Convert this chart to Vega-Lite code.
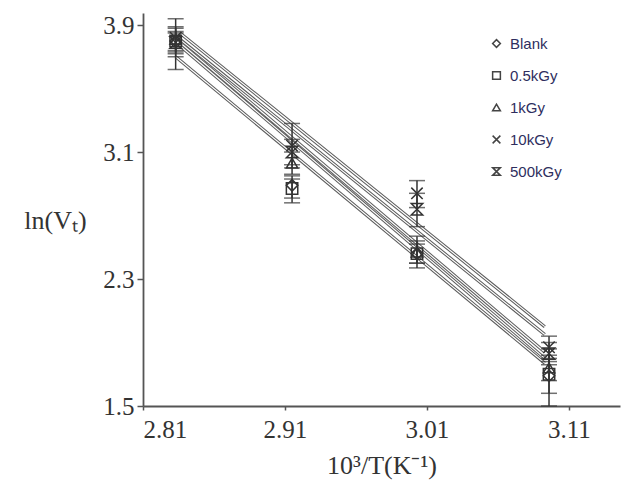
{
  "$schema": "https://vega.github.io/schema/vega-lite/v6.json",
  "width": 477,
  "height": 393,
  "autosize": "none",
  "padding": {"left": 143, "top": 13, "right": 3, "bottom": 91},
  "background": "white",
  "datasets": {
    "pts": [
      {"series": "Blank", "x": 2.833, "y": 3.80, "lo": 3.72, "hi": 3.88},
      {"series": "0.5kGy", "x": 2.833, "y": 3.80, "lo": 3.74, "hi": 3.86},
      {"series": "1kGy", "x": 2.833, "y": 3.81, "lo": 3.73, "hi": 3.89},
      {"series": "10kGy", "x": 2.833, "y": 3.82, "lo": 3.62, "hi": 3.94},
      {"series": "500kGy", "x": 2.833, "y": 3.79, "lo": 3.70, "hi": 3.85},
      {"series": "Blank", "x": 2.915, "y": 2.89, "lo": 2.78, "hi": 2.95},
      {"series": "0.5kGy", "x": 2.915, "y": 2.87, "lo": 2.81, "hi": 2.93},
      {"series": "1kGy", "x": 2.915, "y": 3.03, "lo": 2.96, "hi": 3.10},
      {"series": "10kGy", "x": 2.915, "y": 3.14, "lo": 3.00, "hi": 3.28},
      {"series": "500kGy", "x": 2.915, "y": 3.10, "lo": 3.02, "hi": 3.18},
      {"series": "Blank", "x": 3.003, "y": 2.46, "lo": 2.37, "hi": 2.57},
      {"series": "0.5kGy", "x": 3.003, "y": 2.46, "lo": 2.40, "hi": 2.52},
      {"series": "1kGy", "x": 3.003, "y": 2.47, "lo": 2.40, "hi": 2.54},
      {"series": "10kGy", "x": 3.003, "y": 2.84, "lo": 2.75, "hi": 2.92},
      {"series": "500kGy", "x": 3.003, "y": 2.74, "lo": 2.63, "hi": 2.84},
      {"series": "Blank", "x": 3.096, "y": 1.69, "lo": 1.50, "hi": 1.86},
      {"series": "0.5kGy", "x": 3.096, "y": 1.70, "lo": 1.58, "hi": 1.78},
      {"series": "1kGy", "x": 3.096, "y": 1.74, "lo": 1.66, "hi": 1.82},
      {"series": "10kGy", "x": 3.096, "y": 1.87, "lo": 1.80, "hi": 1.94},
      {"series": "500kGy", "x": 3.096, "y": 1.83, "lo": 1.76, "hi": 1.90}
    ],
    "fit": [
      {"series": "10kGy", "x": 2.836, "y": 3.85},
      {"series": "10kGy", "x": 3.093, "y": 2.00},
      {"series": "500kGy", "x": 2.836, "y": 3.81},
      {"series": "500kGy", "x": 3.093, "y": 1.95},
      {"series": "1kGy", "x": 2.836, "y": 3.79},
      {"series": "1kGy", "x": 3.093, "y": 1.84},
      {"series": "0.5kGy", "x": 2.836, "y": 3.77},
      {"series": "0.5kGy", "x": 3.093, "y": 1.80},
      {"series": "Blank", "x": 2.833, "y": 3.70},
      {"series": "Blank", "x": 3.093, "y": 1.77}
    ]
  },
  "layer": [
    {
      "data": {"name": "fit"},
      "mark": {"type": "line", "color": "#5a5a5a", "strokeWidth": 3.2},
      "encoding": {
        "x": {
          "field": "x", "type": "quantitative",
          "scale": {"domain": [2.81, 3.146], "nice": false, "zero": false},
          "axis": {
            "values": [2.81, 2.91, 3.01, 3.11], "format": ".2f",
            "title": "10³/T(K⁻¹)", "tickSize": 4, "labelPadding": 7, "titlePadding": 10
          }
        },
        "y": {
          "field": "y", "type": "quantitative",
          "scale": {"domain": [1.5, 3.976], "nice": false, "zero": false},
          "axis": {
            "values": [1.5, 2.3, 3.1, 3.9], "format": ".1f",
            "title": "ln(Vₜ)", "titleAngle": 0, "titleX": -88, "titleY": 207,
            "titleAlign": "center", "titleBaseline": "middle",
            "tickSize": 6, "labelPadding": 3, "labelFlush": false
          }
        },
        "detail": {"field": "series"}
      }
    },
    {
      "data": {"name": "fit"},
      "mark": {"type": "line", "color": "white", "strokeWidth": 1.2},
      "encoding": {
        "x": {"field": "x", "type": "quantitative"},
        "y": {"field": "y", "type": "quantitative"},
        "detail": {"field": "series"}
      }
    },
    {
      "data": {"name": "pts"},
      "mark": {"type": "rule", "color": "#333", "strokeWidth": 1.5},
      "encoding": {
        "x": {"field": "x", "type": "quantitative"},
        "y": {"field": "lo", "type": "quantitative"},
        "y2": {"field": "hi"}
      }
    },
    {
      "data": {"name": "pts"},
      "mark": {"type": "tick", "orient": "horizontal", "color": "#333", "size": 16, "thickness": 1.5},
      "encoding": {
        "x": {"field": "x", "type": "quantitative"},
        "y": {"field": "lo", "type": "quantitative"}
      }
    },
    {
      "data": {"name": "pts"},
      "mark": {"type": "tick", "orient": "horizontal", "color": "#333", "size": 16, "thickness": 1.5},
      "encoding": {
        "x": {"field": "x", "type": "quantitative"},
        "y": {"field": "hi", "type": "quantitative"}
      }
    },
    {
      "data": {"name": "pts"},
      "mark": {"type": "point", "filled": false, "color": "#333", "strokeWidth": 1.5, "size": 130, "opacity": 1},
      "encoding": {
        "x": {"field": "x", "type": "quantitative"},
        "y": {"field": "y", "type": "quantitative"},
        "shape": {
          "field": "series", "type": "nominal",
          "scale": {
            "domain": ["Blank", "0.5kGy", "1kGy", "10kGy", "500kGy"],
            "range": ["diamond", "square", "triangle-up", "M-1,-1L1,1M1,-1L-1,1", "M-1,-1H1L-1,1H1Z"]
          },
          "legend": {
            "title": null, "orient": "none", "legendX": 346, "legendY": 23,
            "symbolSize": 60, "symbolStrokeColor": "#444", "symbolStrokeWidth": 1.5,
            "symbolFillColor": "transparent",
            "labelFont": "Liberation Sans", "labelFontSize": 15, "labelColor": "#2e2e5e",
            "rowPadding": 16, "labelOffset": 6
          }
        }
      }
    }
  ],
  "config": {
    "view": {"stroke": null},
    "axis": {
      "grid": false,
      "domainColor": "#555", "domainWidth": 1.8,
      "tickColor": "#555", "tickWidth": 1.5,
      "labelFont": "Liberation Serif", "labelFontSize": 25, "labelColor": "#333",
      "titleFont": "Liberation Serif", "titleFontSize": 26, "titleFontWeight": "normal", "titleColor": "#333"
    }
  }
}
